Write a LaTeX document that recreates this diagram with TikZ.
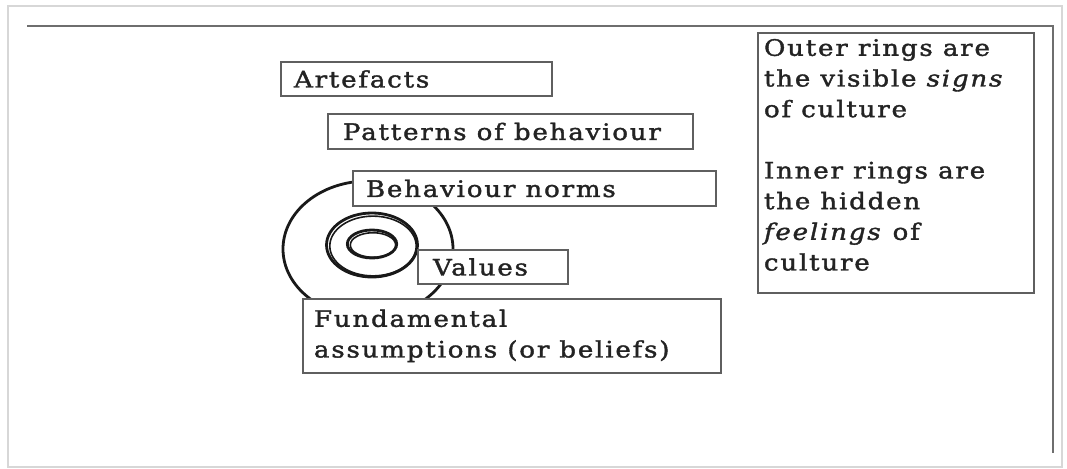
\documentclass[tikz,border=0pt]{standalone}
\usepackage{fontspec}
\setmainfont{DejaVu Serif}[FakeStretch=1.15,LetterSpace=8,FakeBold=1.6]
\definecolor{boxline}{RGB}{95,95,95}
\definecolor{ink}{RGB}{35,35,35}
\definecolor{frameline}{RGB}{110,110,110}
\definecolor{pageedge}{RGB}{215,215,215}
\newcommand\boxtext[2]{\makebox[#1][l]{#2}}
\begin{document}
\begin{tikzpicture}[x=0.75pt,y=-0.75pt,
  lbl/.style={draw=boxline, line width=1.5pt, fill=white, anchor=north west,
    text=ink, inner ysep=0pt, font=\fontsize{17pt}{23pt}\selectfont},
  ring/.style={draw=black!90, line width=2.1pt},
  edge/.style={line width=1.2pt}]
\useasboundingbox (0,0) rectangle (1067,468);
% page outline and frame lines
\draw[pageedge, line width=1.5pt] (8,6) rectangle (1062,467);
\coordinate (tl) at (27,26);
\coordinate (tr) at (1053,26);
\coordinate (br) at (1053,453);
\draw[frameline, edge] (tl) -- (tr) -- (br);

% concentric rings of culture
\draw[ring] (368,249) ellipse [x radius=63.75pt, y radius=51pt];
\draw[ring] (372,245) ellipse [x radius=34.1pt, y radius=24pt];
\draw[ring, line width=1.2pt] (373,246) ellipse [x radius=32.4pt, y radius=22.4pt];
\draw[ring] (372,244) ellipse [x radius=18.5pt, y radius=10.5pt];
\draw[ring, line width=1.2pt] (373,245) ellipse [x radius=17pt, y radius=9.2pt];

% labelled layers
\node[lbl, inner xsep=9.75pt, minimum height=25.5pt] (artefacts) at (280,61)
  {\boxtext{183.75pt}{Artefacts}};
\node[lbl, inner xsep=11.25pt, minimum height=26.25pt] (patterns) at (327,113)
  {\boxtext{251.25pt}{Patterns of behaviour}};
\node[lbl, inner xsep=9.75pt, minimum height=26.25pt] (norms) at (352,170)
  {\boxtext{252.75pt}{Behaviour norms}};
\node[lbl, inner xsep=11.25pt, minimum height=25.5pt] (values) at (417,249)
  {\boxtext{90pt}{Values}};
\node[lbl, inner xsep=8.25pt, minimum height=55.5pt] (assumptions) at (302,298)
  {\boxtext{297pt}{\begin{tabular}{@{}l@{}}Fundamental\\assumptions (or beliefs)\end{tabular}}};

% explanatory note
\node[lbl, inner xsep=4.5pt] (note) at (757,32)
  {\parbox[c][195pt][t]{198pt}{\vspace*{1pt}\begin{tabular}[t]{@{}l@{}}
    Outer rings are\\
    the visible \textit{signs}\\
    of culture\\[23pt]
    Inner rings are\\
    the hidden\\
    \textit{feelings} of\\
    culture
  \end{tabular}}};
\end{tikzpicture}
\end{document}
